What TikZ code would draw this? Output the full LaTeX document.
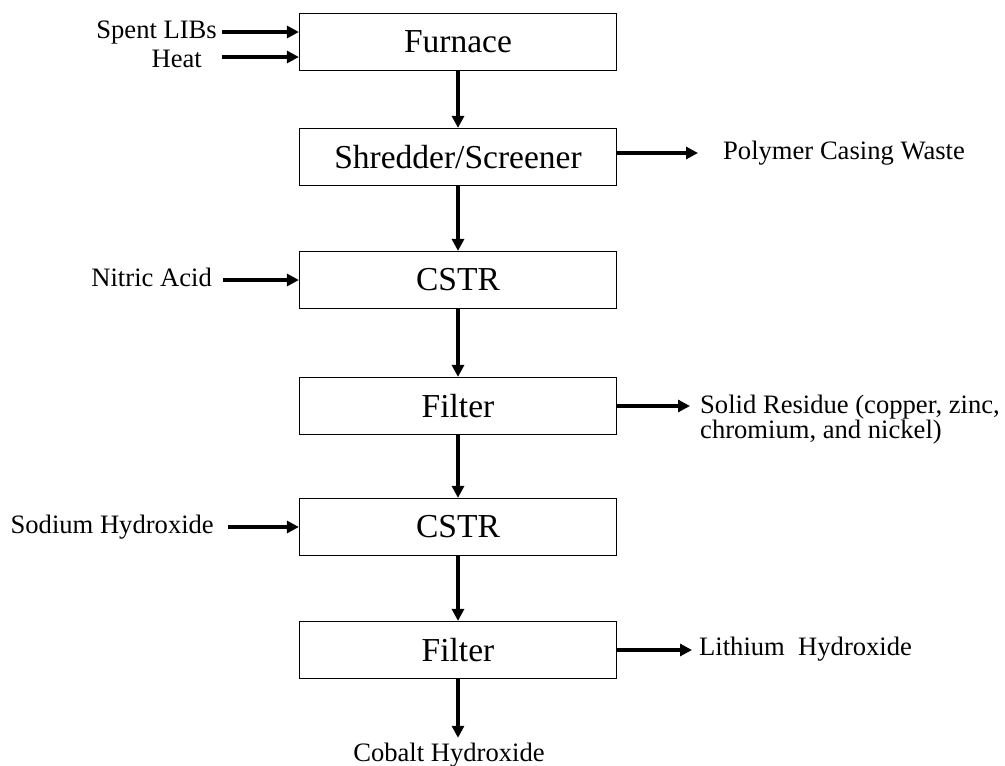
\documentclass[tikz,border=0pt]{standalone}
\usepackage{fontspec}
\setmainfont{Liberation Serif}
\usepackage{tikz}
\usetikzlibrary{shapes,arrows.meta}

\begin{document}
\begin{tikzpicture}[x=1pt, y=1pt]
\tikzstyle{unit} = [draw, line width = 1.2pt, minimum width = 317pt, minimum height = 57pt, inner sep = 0pt, font = \fontsize{33.5}{40}\selectfont]
\tikzstyle{stream} = [inner sep = 0pt, text height = 17pt, text depth = 5pt, font = \fontsize{26.6}{24}\selectfont]
\tikzstyle{flow} = [line width = 4pt, -{Triangle[length = 12pt, width = 12pt]}]
\useasboundingbox (0,0) rectangle (1005,-766);
% units
\node[unit] (furnace) at (458,-42) {Furnace};
\node[unit] (shredder) at (458,-157) {Shredder/Screener};
\node[unit] (cstr1) at (458,-280) {CSTR};
\node[unit] (filter1) at (458,-406) {Filter};
\node[unit] (cstr2) at (458,-527) {CSTR};
\node[unit] (filter2) at (458,-650) {Filter};
% streams
\node[stream, anchor = east] (libs) at (217,-32) {Spent LIBs};
\node[stream, anchor = east] (heat) at (202,-61) {Heat};
\coordinate (heatin) at (222,-57);
\node[stream, anchor = east] (nitric) at (212,-280) {Nitric Acid};
\node[stream, anchor = east] (sodium) at (214,-527) {Sodium Hydroxide};
\node[stream, anchor = west] (polymer) at (723,-153) {Polymer Casing Waste};
\node[inner sep = 0pt, anchor = west, align = left, font = \fontsize{26.6}{24}\selectfont] (residue) at (700,-420) {Solid Residue (copper, zinc,\\chromium, and nickel)};
\node[stream, anchor = west] (lithium) at (699,-649) {Lithium\ \ Hydroxide};
\node[stream] (cobalt) at (449,-755) {Cobalt Hydroxide};
% main line
\draw[flow] (furnace) -- (shredder);
\draw[flow] (shredder) -- (cstr1);
\draw[flow] (cstr1) -- (filter1);
\draw[flow] (filter1) -- (cstr2);
\draw[flow] (cstr2) -- (filter2);
\draw[flow, shorten >= 6pt] (filter2.south) -- (filter2.south |- cobalt.north);
% feeds and products
\draw[flow, shorten <= 5pt] (libs.east) -- (libs.east -| furnace.west);
\draw[flow] (heatin) -- (heatin -| furnace.west);
\draw[flow, shorten <= 11pt] (nitric.east) -- (nitric.east -| cstr1.west);
\draw[flow, shorten <= 14pt] (sodium.east) -- (sodium.east -| cstr2.west);
\draw[flow, shorten >= 25pt] (polymer.west -| shredder.east) -- (polymer.west);
\draw[flow, shorten >= 10pt] (filter1.east) -- (filter1.east -| residue.west);
\draw[flow, shorten >= 7pt] (filter2.east) -- (filter2.east -| lithium.west);
\end{tikzpicture}
\end{document}
